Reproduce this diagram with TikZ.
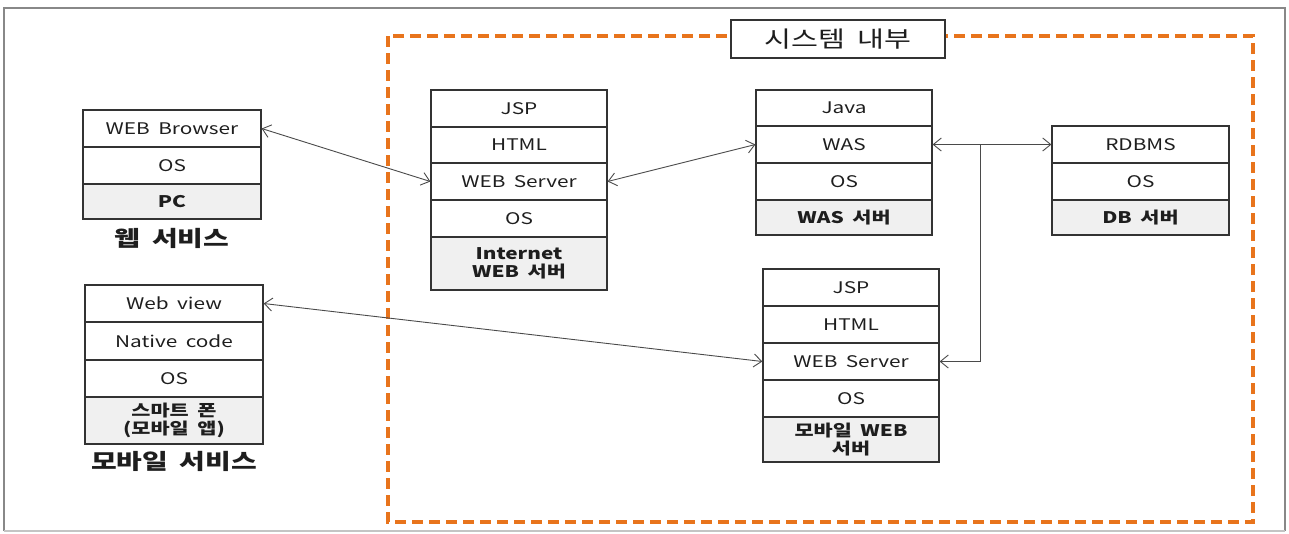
\documentclass[tikz,border=0pt]{standalone}
\usepackage{fontspec}
\setmainfont{Noto Sans CJK KR}[FakeStretch=1.3, WordSpace=1.8]
\usetikzlibrary{arrows.meta}

\definecolor{boxline}{HTML}{333333}
\definecolor{txt}{HTML}{1E1E1E}
\definecolor{basefill}{HTML}{F0F0F0}
\definecolor{linkc}{HTML}{4A4A4A}
\definecolor{framec}{HTML}{888888}
\definecolor{framelow}{HTML}{C4C4C4}
\definecolor{sysorange}{HTML}{E8741C}

\begin{document}
\begin{tikzpicture}[x=1pt,y=-1pt,
  cell/.style={draw=boxline, line width=1.2pt, fill=white, text=txt,
    inner sep=0pt, align=center, font=\fontsize{16}{18}\selectfont},
  basecell/.style={cell, fill=basefill, font=\bfseries\fontsize{16}{18.5}\selectfont},
  caption/.style={text=txt, inner sep=0pt, font=\bfseries\fontsize{21.5}{24}\selectfont},
  link/.style={draw=linkc, line width=0.9pt},
  >={Straight Barb[length=8pt,width=13pt]},
]
\useasboundingbox (0,0) rectangle (1289,533);

% outer frame
\draw[framec, line width=2pt] (4,531) -- (4,8) -- (1285,8) -- (1285,531);
\draw[framelow, line width=2pt] (4,531) -- (1285,531);

% system boundary
\draw[sysorange, line width=3.5pt, dash pattern=on 11pt off 6pt]
  (388,36) rectangle (1253,522);
\node[draw=boxline, line width=1.2pt, fill=white, text=txt,
  minimum width=214pt, minimum height=38pt, inner sep=0pt,
  font=\fontsize{22.5}{24}\selectfont] (sys) at (838,39) {시스템 내부};

% PC (web service)
\node[cell, minimum width=178pt, minimum height=37pt] (pcA) at (172,128.5) {WEB Browser};
\node[cell, minimum width=178pt, minimum height=37pt] (pcB) at (172,165.5) {OS};
\node[basecell, minimum width=178pt, minimum height=35pt] (pcC) at (172,201.5) {PC};
\node[caption] (pcLab) at (172,238) {웹 서비스};

% smartphone (mobile service)
\node[cell, minimum width=178pt, minimum height=37pt] (mA) at (174,303.5) {Web view};
\node[cell, minimum width=178pt, minimum height=38pt] (mB) at (174,341) {Native code};
\node[cell, minimum width=178pt, minimum height=37pt] (mC) at (174,378.5) {OS};
\node[basecell, minimum width=178pt, minimum height=47pt] (mD) at (174,420.5) {스마트 폰\\(모바일 앱)};
\node[caption] (mLab) at (174,461) {모바일 서비스};

% internet web server
\node[cell, minimum width=176pt, minimum height=37pt] (iA) at (519,108.5) {JSP};
\node[cell, minimum width=176pt, minimum height=36pt] (iB) at (519,145) {HTML};
\node[cell, minimum width=176pt, minimum height=37pt] (iC) at (519,181.5) {WEB Server};
\node[cell, minimum width=176pt, minimum height=37pt] (iD) at (519,218.5) {OS};
\node[basecell, minimum width=176pt, minimum height=53pt] (iE) at (519,263.5) {Internet\\WEB 서버};

% WAS server
\node[cell, minimum width=176pt, minimum height=36pt] (wA) at (844,108) {Java};
\node[cell, minimum width=176pt, minimum height=37pt] (wB) at (844,144.5) {WAS};
\node[cell, minimum width=176pt, minimum height=37pt] (wC) at (844,181.5) {OS};
\node[basecell, minimum width=176pt, minimum height=35pt] (wD) at (844,217.5) {WAS 서버};

% DB server
\node[cell, minimum width=177pt, minimum height=37pt] (dA) at (1140.5,144.5) {RDBMS};
\node[cell, minimum width=177pt, minimum height=37pt] (dB) at (1140.5,181.5) {OS};
\node[basecell, minimum width=177pt, minimum height=35pt] (dC) at (1140.5,217.5) {DB 서버};

% mobile web server
\node[cell, minimum width=176pt, minimum height=37pt] (bA) at (851,287.5) {JSP};
\node[cell, minimum width=176pt, minimum height=37pt] (bB) at (851,324.5) {HTML};
\node[cell, minimum width=176pt, minimum height=37pt] (bC) at (851,361.5) {WEB Server};
\node[cell, minimum width=176pt, minimum height=37pt] (bD) at (851,398.5) {OS};
\node[basecell, minimum width=176pt, minimum height=45pt] (bE) at (851,439.5) {모바일 WEB\\서버};

% connections
\draw[link, <->] (pcA.east) -- (iC.west);
\draw[link, <->] (iC.east) -- (wB.west);
\draw[link, <->] (mA.east) -- (bC.west);
\draw[link, <->] (wB.east) -- (dA.west);
\coordinate (split) at (980,144.5);
\draw[link, ->] (split) |- (bC.east);
\end{tikzpicture}
\end{document}
